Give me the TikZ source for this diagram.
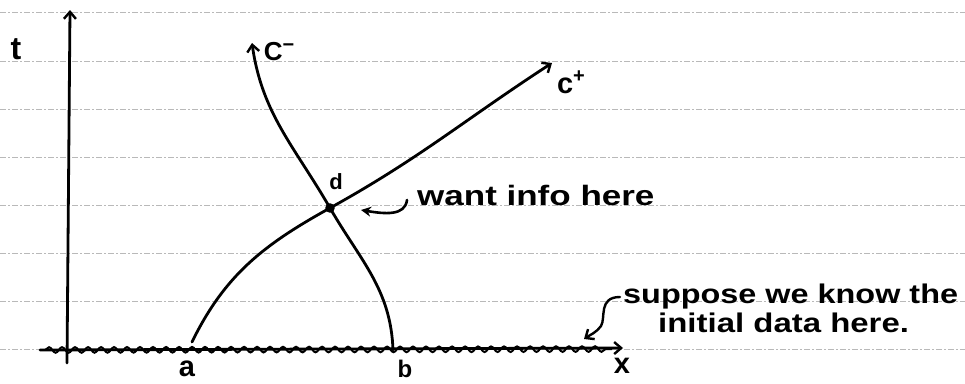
\documentclass[tikz,border=0pt]{standalone}
\usepackage{fontspec}
\setmainfont{Liberation Sans}
\usetikzlibrary{arrows.meta,decorations.pathmorphing}
\begin{document}
\begin{tikzpicture}[x=1pt,y=-1pt,
  rule/.style={draw=gray!55, line width=0.8pt, dash pattern=on 6pt off 2pt on 2pt off 2pt},
  ink/.style={line width=2.8pt, line cap=round, line join=round},
  tip/.style={-{Straight Barb[length=7pt,width=12pt,line width=2.4pt]}},
  lbl/.style={inner sep=0pt, font=\fontsize{26}{28}\selectfont\bfseries},
  hand/.style={inner sep=0pt, anchor=base west, font=\fontsize{27}{29}\selectfont\bfseries}]
\fill[white] (0,0) rectangle (965,383);
\useasboundingbox (0,0) rectangle (965,383);
% ruled paper lines
\foreach \yy in {12,61,109,157,205,253,301,349}
  \draw[rule] (0,\yy) -- (965,\yy);
% named points
\coordinate (o) at (67,363);
\coordinate (ttip) at (70,10);
\coordinate (xs) at (40,350);
\coordinate (xtip) at (623,348);
\coordinate (ptA) at (192,342);
\coordinate (ptB) at (393,350);
\coordinate (ptD) at (330,208);
\coordinate (cptip) at (552,63);
\coordinate (cmtip) at (252,43);
\coordinate (ws) at (407,200);
\coordinate (wt) at (361,210);
\coordinate (ss) at (620,297);
\coordinate (st) at (584,339);
% axes
\draw[ink,tip] (o) -- (ttip);
\draw[ink,tip] (xs) -- (xtip);
\draw[line width=2pt, decorate, decoration={snake, amplitude=2.8pt, segment length=13pt}] (45,350) -- (612,349);
% characteristics
\draw[ink,tip] (ptA) to[out=64,in=209] (ptD) to[out=29,in=213] (cptip);
\draw[ink,tip] (ptB) to[out=92,in=-60] (ptD) to[out=120,in=-82] (cmtip);
\fill (ptD) circle (4.8pt);
% pointer arrows
\draw[line width=2.6pt, line cap=round, -{Stealth[length=10pt,width=10pt]}] (ws) .. controls (405,216) and (385,214) .. (wt);
\draw[line width=2.4pt, line cap=round, tip] (ss) .. controls (598,297) and (606,318) .. (601,326) .. controls (597,332) and (590,335) .. (st);
% labels
\node[lbl, font=\fontsize{32}{34}\selectfont\bfseries] (lt) at (16,49) {t};
\node[lbl] (lcm) at (279,52) {C\raisebox{0.7ex}{\fontsize{20}{22}\selectfont −}};
\node[lbl, font=\fontsize{29}{31}\selectfont\bfseries] (lcp) at (571,82) {c\raisebox{0.7ex}{\fontsize{20}{22}\selectfont +}};
\node[lbl, font=\fontsize{22}{24}\selectfont\bfseries] (ld) at (336,182) {d};
\node[lbl, font=\fontsize{29}{31}\selectfont\bfseries] (la) at (187,369) {a};
\node[lbl, font=\fontsize{24}{26}\selectfont\bfseries] (lb) at (405,369) {b};
\node[lbl, font=\fontsize{29}{31}\selectfont\bfseries] (lx) at (622,366) {x};
\node[hand, font=\fontsize{28}{30}\selectfont\bfseries] (want) at (417,205) {\scalebox{1.25}[1]{want info here}};
\node[hand] (sup1) at (623,303) {\scalebox{1.2}[1]{suppose we know the}};
\node[hand] (sup2) at (658,332) {\scalebox{1.22}[1]{initial data here.}};
\end{tikzpicture}
\end{document}
